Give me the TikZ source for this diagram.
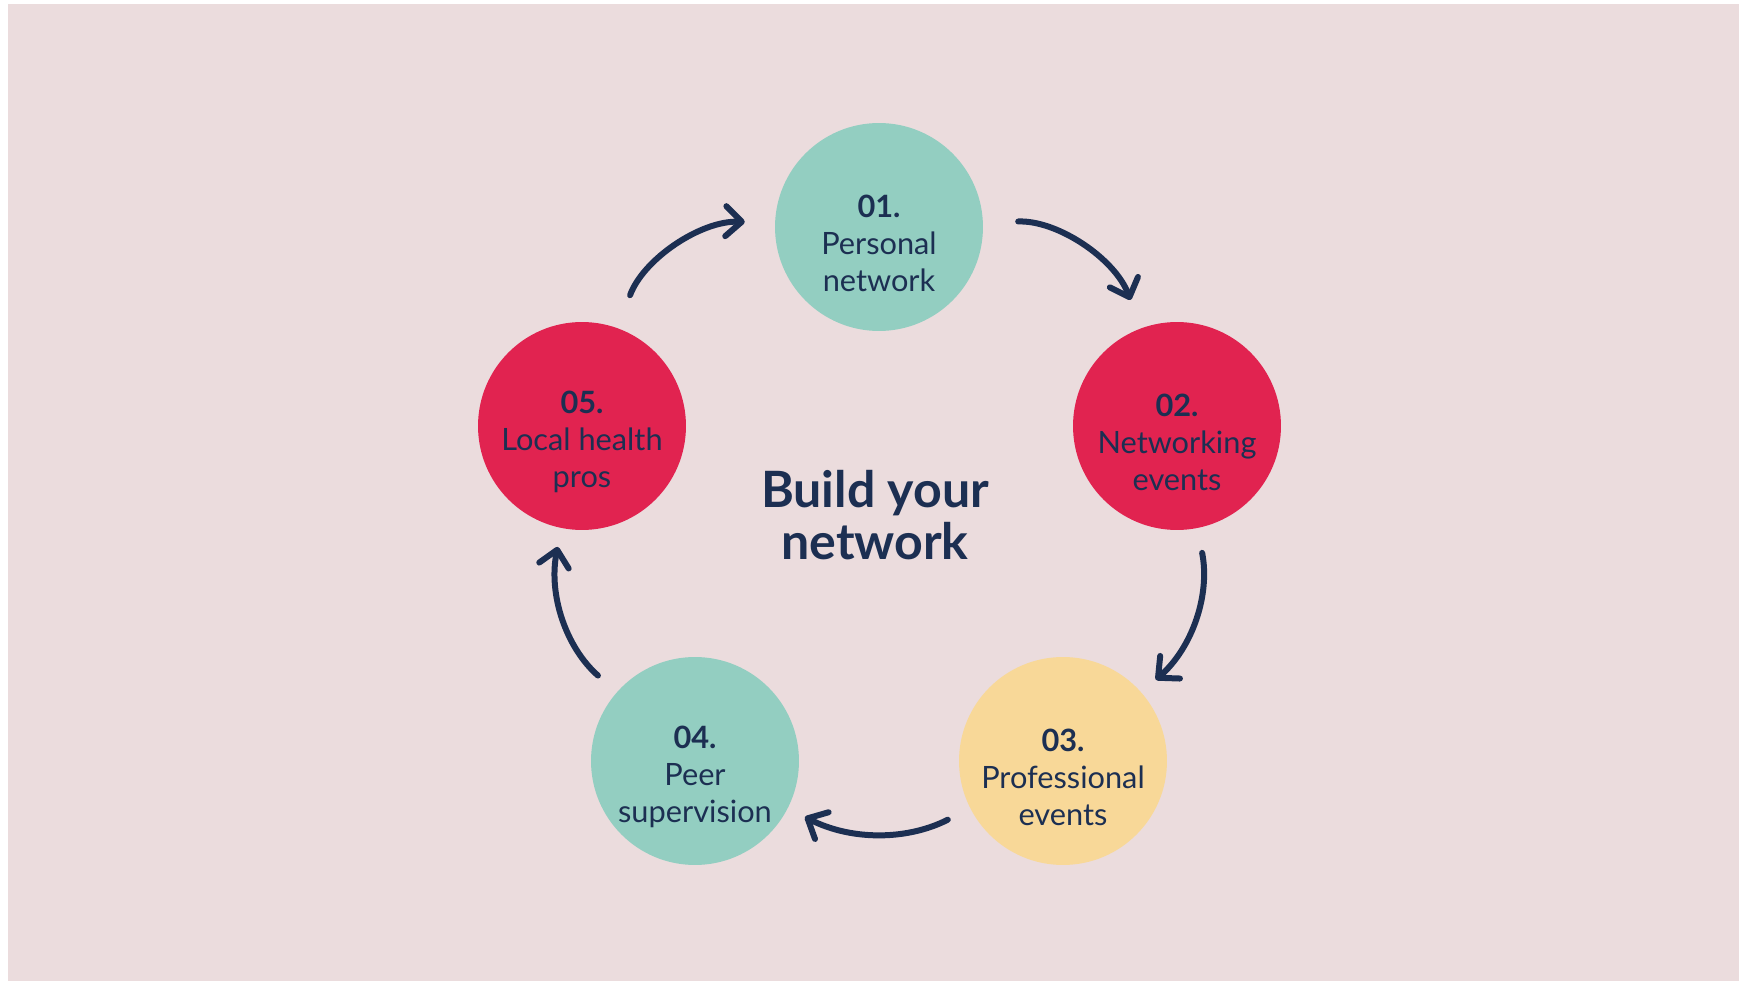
\documentclass[tikz,border=0pt]{standalone}
\usepackage{fontspec}
\setmainfont{Lato}
\usetikzlibrary{arrows.meta,positioning}
\definecolor{blush}{HTML}{EBDCDD}
\definecolor{mint}{HTML}{93CEC1}
\definecolor{crimson}{HTML}{E12350}
\definecolor{sand}{HTML}{F8D898}
\definecolor{ink}{HTML}{1C2F52}
\tikzset{%
    bubble/.style={circle, minimum size=4.16cm, inner sep=0pt},
    caption/.style={align=center, text=ink, font=\fontsize{17.5pt}{21pt}\selectfont},
    headline/.style={align=center, text=ink, font=\bfseries\fontsize{28.5pt}{29.8pt}\selectfont},
    flow/.style={draw=ink, line width=0.12cm, line cap=round,
        -{Straight Barb[length=0.32cm,width=0.6cm,round]},
        shorten <=0.7cm, shorten >=0.6cm},
    longflow/.style={flow, shorten <=0.5cm, shorten >=0.38cm},
  }

\begin{document}
\begin{tikzpicture}[x=0.02cm, y=0.02cm]
    \useasboundingbox (0,0) rectangle (1739,981);
    \fill[white] (0,0) rectangle (1739,981);
    \fill[blush] (8,0) rectangle (1739,977);
    %
    \node (n1) [bubble, fill=mint] at (879,754) {};
    \node (n2) [bubble, fill=crimson] at (1177,555) {};
    \node (n3) [bubble, fill=sand] at (1063,220) {};
    \node (n4) [bubble, fill=mint] at (695,220) {};
    \node (n5) [bubble, fill=crimson] at (582,555) {};
    %
    \node (t1) [caption] at ([yshift=-0.32cm]n1.center) {\textbf{01.}\\Personal\\network};
    \node (t2) [caption] at ([yshift=-0.32cm]n2.center) {\textbf{02.}\\Networking\\events};
    \node (t3) [caption] at ([yshift=-0.32cm]n3.center) {\textbf{03.}\\Professional\\events};
    \node (t4) [caption] at ([yshift=-0.32cm]n4.center) {\textbf{04.}\\Peer\\supervision};
    \node (t5) [caption] at ([yshift=-0.32cm]n5.center) {\textbf{05.}\\Local health\\pros};
    %
    \node (hub) [headline] at (875,466) {Build your\\network};
    %
    \draw [flow] (n1) to[bend left=36] (n2);
    \draw [longflow] (n2) to[bend left=30] (n3);
    \draw [longflow] (n3) to[bend left=27] (n4);
    \draw [longflow] (n4) to[bend left=30] (n5);
    \draw [flow] (n5) to[bend left=36] (n1);
  \end{tikzpicture}
\end{document}
